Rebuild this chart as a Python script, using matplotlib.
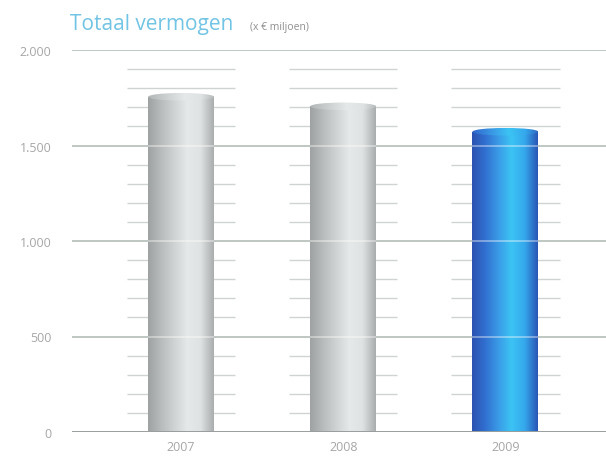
import numpy as np
import matplotlib.pyplot as plt
from matplotlib.colors import LinearSegmentedColormap
from matplotlib.patches import Rectangle, Ellipse

# data
jaren = ['2007', '2008', '2009']
vermogen = [1755, 1705, 1572]
y_ticks = [0, 500, 1000, 1500, 2000]
y_labels = ['0', '500', '1.000', '1.500', '2.000']

plt.rcParams['font.family'] = ['Open Sans', 'DejaVu Sans']

grijs = LinearSegmentedColormap.from_list(
    'grijs', ['#9ea2a2', '#b9bcbc', '#d0d3d3', '#e6e9e9', '#dfe2e2', '#a9adad'])
blauw = LinearSegmentedColormap.from_list(
    'blauw', ['#2c52b0', '#3170d0', '#3a9ae6', '#3cc4f4', '#35a8ec', '#2a55b5'])

fig = plt.figure(figsize=(6.06, 4.6), dpi=100)
ax = fig.add_axes([72 / 606, 1 - 433 / 460, 1 - 72 / 606, (433 - 51) / 460])

x = np.arange(len(jaren))
breedte = 0.407
minor_breedte = 0.667
grad = np.linspace(0, 1, 256).reshape(1, -1)

# grote rasterlijnen
for t in y_ticks[1:]:
    ax.axhline(t, color='#b3bdb8', lw=1.2, zorder=1)
ax.axhline(0, color='#9a9e9c', lw=1.4, zorder=5)

# kleine streepjes per 100
for xi in x:
    for m in range(100, 2000, 100):
        if m % 500 == 0:
            continue
        ax.plot([xi - minor_breedte / 2, xi + minor_breedte / 2], [m, m],
                color='#cfd3d2', lw=1.0, zorder=1, solid_capstyle='butt')

# cilinders
h_top = 40
for xi, v, jaar in zip(x, vermogen, jaren):
    cmap = blauw if jaar == '2009' else grijs
    x0, x1 = xi - breedte / 2, xi + breedte / 2
    rect = Rectangle((x0, 0), breedte, v, transform=ax.transData,
                     facecolor='none', edgecolor='none')
    ax.add_patch(rect)
    im = ax.imshow(grad, extent=[x0, x1, 0, v], aspect='auto', cmap=cmap,
                   zorder=3, interpolation='bicubic')
    im.set_clip_path(rect)
    # lichte lijnen over de cilinder
    for t in y_ticks[1:]:
        if t < v:
            ax.plot([x0, x1], [t, t], color='white', alpha=0.45, lw=1.2,
                    zorder=4, solid_capstyle='butt')
    # bovenkant
    ell = Ellipse((xi, v), breedte, h_top, transform=ax.transData,
                  facecolor='none', edgecolor='none')
    ax.add_patch(ell)
    im2 = ax.imshow(grad * 0.8 + 0.15, extent=[x0, x1, v - h_top / 2, v + h_top / 2],
                    aspect='auto', cmap=cmap, vmin=0, vmax=1, zorder=4,
                    interpolation='bicubic')
    im2.set_clip_path(ell)

ax.set_xlim(-0.673, 2.62)
ax.set_ylim(0, 2000)
ax.set_xticks(x)
ax.set_xticklabels(jaren)
ax.set_yticks(y_ticks)
ax.set_yticklabels(y_labels)
ax.tick_params(axis='both', length=0, labelsize=9, colors='#a6a6a6')
ax.tick_params(axis='y', pad=15)
ax.tick_params(axis='x', pad=6)
for s in ax.spines.values():
    s.set_visible(False)

fig.text(70 / 606, 1 - 30 / 460, 'Totaal vermogen', color='#72c4e4',
         fontsize=15, va='baseline', ha='left')
fig.text(250 / 606, 1 - 30 / 460, '(x € miljoen)', color='#8f8f8f',
         fontsize=7.5, va='baseline', ha='left')

plt.savefig('out.png', dpi=100)
